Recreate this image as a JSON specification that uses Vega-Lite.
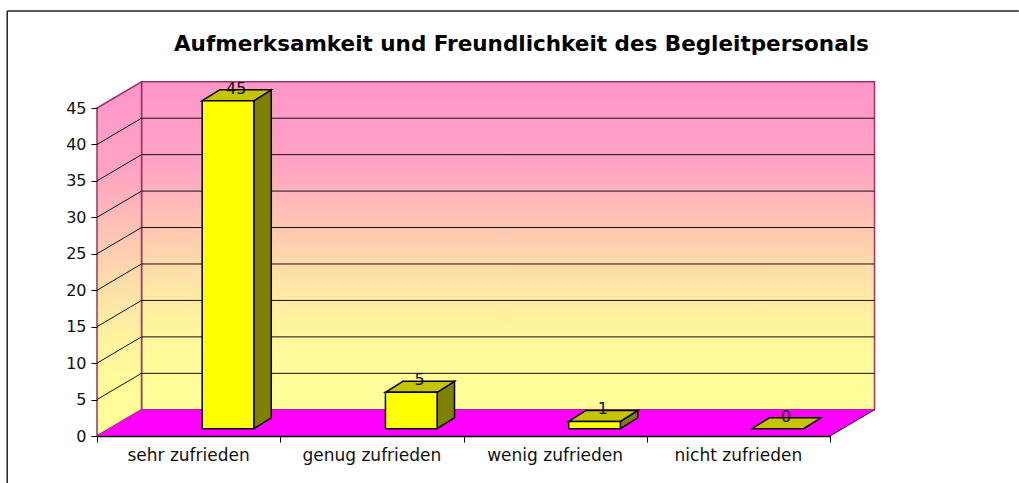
{
"$schema":"https://vega.github.io/schema/vega-lite/v6.json",
"width":733,"height":328,
"autosize":{"type":"none"},
"padding":{"left":97,"top":108,"right":189,"bottom":47},
"background":"white",
"config":{"view":{"stroke":null},"text":{"font":"DejaVu Sans"}},
"datasets":{
"frame":[{"x":-0.49,"x2":5.03,"y":58.3,"y2":58.3},{"x":-0.49,"x2":-0.49,"y":58.3,"y2":-6.5}],
"wall":[{"x":0.243,"x2":4.243,"y":3.6,"y2":48.6}],
"side":[{"x":0,"y":0,"y2":45},{"x":0.243,"y":3.6,"y2":48.6}],
"floor":[{"y":0,"x":0,"x2":4},{"y":3.6,"x":0.243,"x2":4.243}],
"grid":[
{"x":0,"x2":0.243,"y":5,"y2":8.6},{"x":0.243,"x2":4.243,"y":8.6,"y2":8.6},
{"x":0,"x2":0.243,"y":10,"y2":13.6},{"x":0.243,"x2":4.243,"y":13.6,"y2":13.6},
{"x":0,"x2":0.243,"y":15,"y2":18.6},{"x":0.243,"x2":4.243,"y":18.6,"y2":18.6},
{"x":0,"x2":0.243,"y":20,"y2":23.6},{"x":0.243,"x2":4.243,"y":23.6,"y2":23.6},
{"x":0,"x2":0.243,"y":25,"y2":28.6},{"x":0.243,"x2":4.243,"y":28.6,"y2":28.6},
{"x":0,"x2":0.243,"y":30,"y2":33.6},{"x":0.243,"x2":4.243,"y":33.6,"y2":33.6},
{"x":0,"x2":0.243,"y":35,"y2":38.6},{"x":0.243,"x2":4.243,"y":38.6,"y2":38.6},
{"x":0,"x2":0.243,"y":40,"y2":43.6},{"x":0.243,"x2":4.243,"y":43.6,"y2":43.6},
{"x":4,"x2":4.243,"y":0,"y2":3.6}],
"barFront":[
{"category":"sehr zufrieden","value":45,"x":0.574,"x2":0.856,"y":1,"y2":46},
{"category":"genug zufrieden","value":5,"x":1.574,"x2":1.856,"y":1,"y2":6},
{"category":"wenig zufrieden","value":1,"x":2.574,"x2":2.856,"y":1,"y2":2}],
"barSide":[
{"category":"sehr zufrieden","x":0.856,"y":1,"y2":46},{"category":"sehr zufrieden","x":0.951,"y":2.5,"y2":47.5},
{"category":"genug zufrieden","x":1.856,"y":1,"y2":6},{"category":"genug zufrieden","x":1.951,"y":2.5,"y2":7.5},
{"category":"wenig zufrieden","x":2.856,"y":1,"y2":2},{"category":"wenig zufrieden","x":2.951,"y":2.5,"y2":3.5}],
"barTop":[
{"category":"sehr zufrieden","y":46,"x":0.574,"x2":0.856},{"category":"sehr zufrieden","y":47.5,"x":0.669,"x2":0.951},
{"category":"genug zufrieden","y":6,"x":1.574,"x2":1.856},{"category":"genug zufrieden","y":7.5,"x":1.669,"x2":1.951},
{"category":"wenig zufrieden","y":2,"x":2.574,"x2":2.856},{"category":"wenig zufrieden","y":3.5,"x":2.669,"x2":2.951},
{"category":"nicht zufrieden","y":1,"x":3.574,"x2":3.856},{"category":"nicht zufrieden","y":2.5,"x":3.669,"x2":3.951}],
"valueLabels":[
{"category":"sehr zufrieden","value":45,"x":0.76,"y":46},
{"category":"genug zufrieden","value":5,"x":1.76,"y":6},
{"category":"wenig zufrieden","value":1,"x":2.76,"y":2},
{"category":"nicht zufrieden","value":0,"x":3.76,"y":1}],
"categories":[
{"category":"sehr zufrieden","x":0.5,"y":0},
{"category":"genug zufrieden","x":1.5,"y":0},
{"category":"wenig zufrieden","x":2.5,"y":0},
{"category":"nicht zufrieden","x":3.5,"y":0}],
"heading":[{"text":"Aufmerksamkeit und Freundlichkeit des Begleitpersonals","x":2.316,"y":52.8}]
},
"encoding":{
"x":{"field":"x","type":"quantitative","scale":{"domain":[0,4],"nice":false,"zero":false},
"axis":{"title":null,"values":[0,1,2,3,4],"labels":false,"grid":false,"domainColor":"#000000","domainWidth":1.5,"tickColor":"#000000","tickSize":6,"zindex":1}},
"y":{"field":"y","type":"quantitative","scale":{"domain":[0,45],"nice":false,"zero":false},
"axis":{"title":null,"values":[0,5,10,15,20,25,30,35,40,45],"grid":false,"domain":false,"tickColor":"#000000","tickSize":6,"labelPadding":5,"labelFont":"DejaVu Sans","labelFontSize":16,"labelColor":"#111111","zindex":1}}
},
"layer":[
{"data":{"name":"frame"},"mark":{"type":"rule","color":"#222222","strokeWidth":1.5,"clip":false},"encoding":{"x2":{"field":"x2"},"y2":{"field":"y2"}}},
{"data":{"name":"heading"},"mark":{"type":"text","font":"DejaVu Sans","fontSize":21.5,"fontWeight":"bold","color":"#000000","align":"center","baseline":"alphabetic"},"encoding":{"text":{"field":"text","type":"nominal"}}},
{"data":{"name":"wall"},"mark":{"type":"rect","stroke":"#993366","strokeWidth":1.5,"fill":{"gradient":"linear","x1":0,"y1":0,"x2":0,"y2":1,"stops":[{"offset":0,"color":"#FF96CA"},{"offset":0.25,"color":"#FFA3C4"},{"offset":0.45,"color":"#FFC8B2"},{"offset":0.6,"color":"#FFE2A8"},{"offset":0.72,"color":"#FFF2A0"},{"offset":0.85,"color":"#FFFB99"},{"offset":1,"color":"#FFFF99"}]}},"encoding":{"x2":{"field":"x2"},"y2":{"field":"y2"}}},
{"data":{"name":"side"},"mark":{"type":"area","orient":"vertical","stroke":"#993366","strokeWidth":1.5,"fill":{"gradient":"linear","x1":0,"y1":0,"x2":0,"y2":1,"stops":[{"offset":0,"color":"#FF96CA"},{"offset":0.25,"color":"#FFA3C4"},{"offset":0.45,"color":"#FFC8B2"},{"offset":0.6,"color":"#FFE2A8"},{"offset":0.72,"color":"#FFF2A0"},{"offset":0.85,"color":"#FFFB99"},{"offset":1,"color":"#FFFF99"}]}},"encoding":{"y2":{"field":"y2"}}},
{"data":{"name":"floor"},"mark":{"type":"area","orient":"horizontal","fill":"#FF00FF"},"encoding":{"x2":{"field":"x2"}}},
{"data":{"name":"grid"},"mark":{"type":"rule","color":"#111111","strokeWidth":1},"encoding":{"x2":{"field":"x2"},"y2":{"field":"y2"}}},
{"data":{"name":"barSide"},"mark":{"type":"area","orient":"vertical","fill":"#808000","stroke":"#000000","strokeWidth":1.5},"encoding":{"y2":{"field":"y2"},"detail":{"field":"category"}}},
{"data":{"name":"barTop"},"mark":{"type":"area","orient":"horizontal","fill":"#C4C400","stroke":"#000000","strokeWidth":1.5},"encoding":{"x2":{"field":"x2"},"detail":{"field":"category"}}},
{"data":{"name":"barFront"},"mark":{"type":"rect","fill":"#FFFF00","stroke":"#000000","strokeWidth":1.5},"encoding":{"x2":{"field":"x2"},"y2":{"field":"y2"}}},
{"data":{"name":"valueLabels"},"mark":{"type":"text","font":"DejaVu Sans","fontSize":16,"color":"#111111","align":"center","baseline":"alphabetic","dy":-7},"encoding":{"text":{"field":"value","type":"quantitative"}}},
{"data":{"name":"categories"},"mark":{"type":"text","font":"DejaVu Sans","fontSize":17,"color":"#111111","align":"center","baseline":"alphabetic","dy":25},"encoding":{"text":{"field":"category","type":"nominal"}}}
]
}
